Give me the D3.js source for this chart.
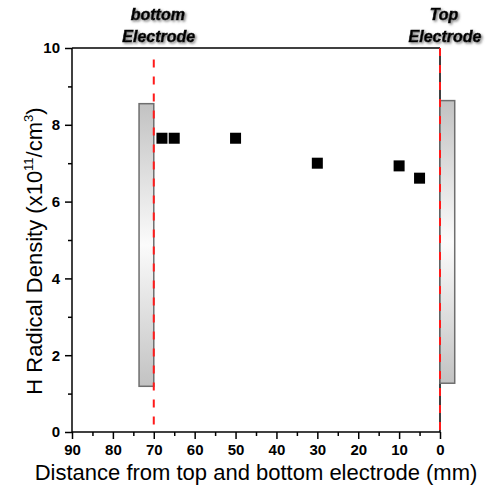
<!DOCTYPE html>
<html>
<head>
<meta charset="utf-8">
<script src="https://cdn.jsdelivr.net/npm/d3@7"></script>
<style>
  body { margin: 0; background: #fff; }
  svg { display: block; font-family: "Liberation Sans", Arial, sans-serif; }
</style>
</head>
<body>
<div id="chart"></div>
<script>
// data
const distance = [68, 65, 50, 30, 10, 5];
const density = [7.65, 7.65, 7.65, 7.0, 6.93, 6.61];

const xTicks = [90, 80, 70, 60, 50, 40, 30, 20, 10, 0];
const xMinor = [85, 75, 65, 55, 45, 35, 25, 15, 5];
const yTicks = [0, 2, 4, 6, 8, 10];
const yMinor = [1, 3, 5, 7, 9];

// electrodes (grey plates) and their dashed position lines
const electrodeNames = ["bottom", "Top"];
const electrodeX0 = [73.6, 0];
const electrodeX1 = [70, -3.6];
const electrodeTop = [8.55, 8.63];
const electrodeBottom = [1.19, 1.27];
const electrodeLineX = [70, 0];
const electrodeLineTop = [9.7, 10];

const W = 489, H = 486;
const margin = { top: 48, right: 49, bottom: 54, left: 72 };

const svg = d3.select("#chart").append("svg")
    .attr("width", W)
    .attr("height", H);

const x = d3.scaleLinear().domain([90, 0]).range([margin.left, W - margin.right]);
const y = d3.scaleLinear().domain([0, 10]).range([H - margin.bottom, margin.top]);

const defs = svg.append("defs");
const grad = defs.append("linearGradient")
    .attr("id", "plate")
    .attr("x1", 0).attr("y1", 0).attr("x2", 0).attr("y2", 1);
grad.append("stop").attr("offset", "0%").attr("stop-color", "#c2c2c2");
grad.append("stop").attr("offset", "50%").attr("stop-color", "#fbfbfb");
grad.append("stop").attr("offset", "100%").attr("stop-color", "#c2c2c2");

const shadow = defs.append("filter").attr("id", "shadow")
    .attr("x", "-20%").attr("y", "-40%").attr("width", "140%").attr("height", "180%");
shadow.append("feDropShadow")
    .attr("dx", 1.5).attr("dy", 1.5)
    .attr("stdDeviation", 1)
    .attr("flood-color", "#777")
    .attr("flood-opacity", 0.9);

// frame: top and right edges
svg.append("line")
    .attr("x1", x(90)).attr("x2", x(0))
    .attr("y1", y(10)).attr("y2", y(10))
    .attr("stroke", "#000").attr("stroke-width", 1.5);
svg.append("line")
    .attr("x1", x(0)).attr("x2", x(0))
    .attr("y1", y(10)).attr("y2", y(0))
    .attr("stroke", "#000").attr("stroke-width", 1.5);

// electrode plates
svg.selectAll(".plate")
    .data(electrodeNames)
    .join("rect")
    .attr("class", "plate")
    .attr("x", (d, i) => x(electrodeX0[i]))
    .attr("width", (d, i) => x(electrodeX1[i]) - x(electrodeX0[i]))
    .attr("y", (d, i) => y(electrodeTop[i]))
    .attr("height", (d, i) => y(electrodeBottom[i]) - y(electrodeTop[i]))
    .attr("fill", "url(#plate)")
    .attr("stroke", "#6e6e6e")
    .attr("stroke-width", 1.5);

// axes
const xAxis = svg.append("g")
    .attr("transform", `translate(0,${y(0)})`)
    .call(d3.axisBottom(x).tickValues(xTicks).tickSize(7).tickPadding(5).tickFormat(d3.format("d")));
svg.append("g")
    .attr("transform", `translate(0,${y(0)})`)
    .call(d3.axisBottom(x).tickValues(xMinor).tickSize(4).tickFormat(""))
    .select(".domain").remove();

const yAxis = svg.append("g")
    .attr("transform", `translate(${x(90)},0)`)
    .call(d3.axisLeft(y).tickValues(yTicks).tickSize(7).tickPadding(5).tickFormat(d3.format("d")));
svg.append("g")
    .attr("transform", `translate(${x(90)},0)`)
    .call(d3.axisLeft(y).tickValues(yMinor).tickSize(4).tickFormat(""))
    .select(".domain").remove();

svg.selectAll(".domain").attr("stroke-width", 1.5).attr("stroke", "#000");
svg.selectAll(".tick line").attr("stroke-width", 1.5).attr("stroke", "#000");
svg.selectAll(".tick text")
    .attr("font-family", "'Liberation Sans', Arial, sans-serif")
    .attr("font-size", 15)
    .attr("font-weight", "bold")
    .attr("fill", "#000");
xAxis.selectAll(".domain").attr("d", `M${x(90)},0H${x(0)}`);
yAxis.selectAll(".domain").attr("d", `M0,${y(0)}V${y(10)}`);

// red dashed electrode lines
svg.selectAll(".eline")
    .data(electrodeLineX)
    .join("line")
    .attr("class", "eline")
    .attr("x1", d => x(d)).attr("x2", d => x(d))
    .attr("y1", (d, i) => y(electrodeLineTop[i]))
    .attr("y2", y(0))
    .attr("stroke", "#ff1a1a")
    .attr("stroke-width", 2)
    .attr("stroke-dasharray", "8,9");

// data points
const sq = 11;
svg.selectAll(".pt")
    .data(distance)
    .join("rect")
    .attr("class", "pt")
    .attr("x", (d) => x(d) - sq / 2)
    .attr("y", (d, i) => y(density[i]) - sq / 2)
    .attr("width", sq)
    .attr("height", sq)
    .attr("fill", "#000");

// electrode labels
const labels = svg.selectAll(".elabel")
    .data(electrodeNames)
    .join("text")
    .attr("class", "elabel")
    .attr("text-anchor", "middle")
    .attr("font-size", 16)
    .attr("font-weight", "bold")
    .attr("font-style", "italic")
    .attr("stroke", "#000")
    .attr("stroke-width", 0.6)
    .attr("filter", "url(#shadow)");
labels.append("tspan")
    .attr("x", (d, i) => x(electrodeLineX[i]) + 4)
    .attr("y", 20)
    .text(d => d);
labels.append("tspan")
    .attr("x", (d, i) => x(electrodeLineX[i]) + 5)
    .attr("y", 42)
    .text("Electrode");

// axis titles
svg.append("text")
    .attr("x", 256)
    .attr("y", 480)
    .attr("text-anchor", "middle")
    .attr("font-size", 22)
    .text("Distance from top and bottom electrode (mm)");

const yt = svg.append("text")
    .attr("transform", "translate(42,251) rotate(-90)")
    .attr("text-anchor", "middle")
    .attr("font-size", 22);
yt.append("tspan").text("H Radical Density (x10");
yt.append("tspan").attr("font-size", 13).attr("dy", -9).text("11");
yt.append("tspan").attr("dy", 9).text("/cm");
yt.append("tspan").attr("font-size", 13).attr("dy", -9).text("3");
yt.append("tspan").attr("dy", 9).text(")");
</script>
</body>
</html>
